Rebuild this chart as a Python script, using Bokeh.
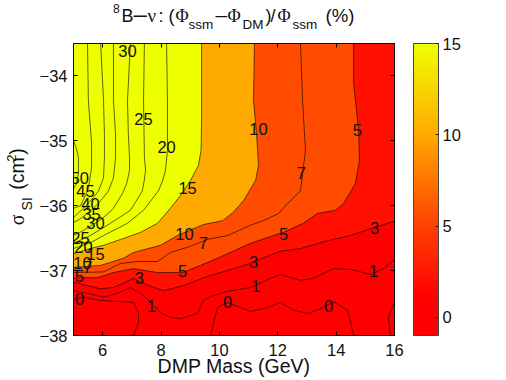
import numpy as np
from bokeh.plotting import figure
from bokeh.layouts import column, row
from bokeh.models import (ColorBar, LinearColorMapper, FixedTicker, LinearAxis, Range1d)
from bokeh.core.properties import value
from bokeh.embed import file_html
from bokeh.resources import INLINE

# contour lines: (DMP mass GeV, log sigma)
c50_x = [5.00, 5.10, 5.17, 5.17, 5.10, 5.00]
c50_y = [-35.00, -35.12, -35.26, -35.50, -35.66, -35.74]
c45_x = [5.48, 5.51, 5.58, 5.62, 5.62, 5.55, 5.48, 5.24, 5.00]
c45_y = [-33.50, -34.38, -34.80, -35.04, -35.41, -35.62, -35.77, -36.00, -36.04]
c40_x = [5.93, 6.03, 6.06, 6.06, 6.03, 5.86, 5.69, 5.34, 5.00]
c40_y = [-33.50, -34.38, -34.90, -35.26, -35.57, -35.77, -35.87, -36.04, -36.18]
c35_x = [6.37, 6.37, 6.44, 6.44, 6.37, 6.20, 6.03, 5.69, 5.24, 5.00]
c35_y = [-33.50, -34.38, -34.90, -35.26, -35.57, -35.77, -35.87, -36.04, -36.20, -36.26]
c30_x = [6.95, 6.85, 6.88, 6.92, 6.92, 6.82, 6.68, 6.37, 5.99, 5.34, 5.00]
c30_y = [-33.50, -34.38, -34.90, -35.26, -35.46, -35.66, -35.81, -36.04, -36.20, -36.38, -36.46]
c25_x = [7.43, 7.40, 7.43, 7.47, 7.42, 7.36, 7.23, 6.95, 6.27, 5.58, 5.00]
c25_y = [-33.50, -34.38, -35.26, -35.46, -35.62, -35.77, -35.87, -36.07, -36.27, -36.46, -36.58]
c20_x = [8.19, 8.22, 8.22, 8.15, 8.05, 7.91, 7.74, 7.40, 6.85, 6.03, 5.58, 5.00]
c20_y = [-33.50, -34.38, -35.15, -35.46, -35.62, -35.77, -35.87, -36.07, -36.27, -36.46, -36.57, -36.66]
c15_x = [5.00, 5.48, 6.03, 6.61, 7.30, 7.88, 8.32, 8.67, 9.01, 9.28, 9.37, 9.39, 9.39]
c15_y = [-36.74, -36.67, -36.61, -36.52, -36.41, -36.27, -36.04, -35.84, -35.61, -35.38, -35.15, -34.69, -33.50]
c10_x = [5.00, 5.93, 6.71, 7.06, 7.98, 8.56, 9.45, 10.11, 10.48, 10.83, 11.24, 11.34, 11.31, 11.27, 11.17, 11.20]
c10_y = [-36.95, -36.92, -36.81, -36.72, -36.61, -36.46, -36.29, -36.23, -36.10, -35.92, -35.61, -35.38, -35.15, -34.89, -34.38, -33.50]
c7_x = [5.00, 6.03, 6.61, 7.19, 7.88, 8.32, 8.91, 9.59, 10.28, 11.07, 11.51, 12.03, 12.33, 12.78, 12.85, 12.95, 12.85, 12.78]
c7_y = [-37.03, -37.02, -36.89, -36.86, -36.86, -36.72, -36.64, -36.52, -36.46, -36.30, -36.23, -36.12, -35.97, -35.77, -35.50, -35.15, -34.38, -33.50]
c5_x = [5.00, 5.82, 6.37, 7.06, 7.88, 8.74, 9.35, 9.93, 11.07, 11.65, 12.20, 12.88, 13.36, 13.98, 14.25, 14.66, 14.80, 14.77, 14.60, 14.60]
c5_y = [-37.11, -37.11, -37.03, -36.97, -37.03, -37.03, -36.92, -36.81, -36.58, -36.49, -36.41, -36.27, -36.12, -36.07, -35.97, -35.66, -35.30, -34.84, -34.12, -33.50]
c3_x = [5.00, 5.93, 6.37, 7.06, 7.57, 8.08, 8.77, 9.59, 10.48, 11.07, 11.31, 12.09, 12.78, 13.70, 14.49, 15.28, 16.00]
c3_y = [-37.18, -37.28, -37.26, -37.12, -37.23, -37.31, -37.23, -37.09, -36.97, -36.89, -36.84, -36.70, -36.66, -36.54, -36.46, -36.34, -36.24]
c1_x = [5.00, 5.48, 6.03, 6.51, 6.95, 7.30, 7.64, 7.98, 8.32, 8.67, 9.25, 9.45, 9.70, 10.28, 11.07, 11.65, 12.09, 12.78, 13.22, 13.91, 14.49, 15.18, 15.62, 16.00]
c1_y = [-37.31, -37.35, -37.41, -37.35, -37.26, -37.35, -37.49, -37.65, -37.72, -37.74, -37.66, -37.46, -37.40, -37.32, -37.26, -37.14, -37.06, -37.15, -37.12, -36.97, -36.98, -37.06, -36.97, -36.83]
c0a_x = [5.00, 5.34, 5.93, 7.06, 7.23, 7.23, 7.06]
c0a_y = [-37.45, -37.41, -37.46, -37.49, -37.65, -37.80, -38.00]
c0b_x = [9.70, 9.93, 10.28, 10.72, 11.07, 11.65, 12.09, 12.54, 13.02, 13.57, 13.91, 14.39, 14.60]
c0b_y = [-38.00, -37.57, -37.49, -37.57, -37.63, -37.57, -37.49, -37.61, -37.66, -37.57, -37.48, -37.61, -38.00]
c0c_x = [16.00, 15.79, 15.86]
c0c_y = [-37.49, -37.72, -38.00]

label_x = [6.85, 7.40, 8.19, 8.91, 11.34, 14.73, 12.81, 8.80, 9.45, 12.20, 15.32, 11.17, 8.74, 7.26, 7.67,
           11.24, 15.28, 10.28, 13.74, 5.21, 5.21, 5.31, 5.48, 5.75, 5.34, 5.24, 5.75, 5.62, 5.58, 5.41, 5.21]
label_y = [-33.62, -34.66, -35.10, -35.72, -34.81, -34.84, -35.50, -36.43, -36.58, -36.43, -36.34, -36.86, -37.00, -37.11, -37.54,
           -37.23, -37.01, -37.49, -37.54, -37.43, -37.08, -36.89, -36.94, -36.74, -36.64, -36.49, -36.27, -36.13, -35.97, -35.78, -35.58]
label_text = ["30", "25", "20", "15", "10", "5", "7", "10", "7", "5", "3", "3", "5", "3", "1",
              "1", "1", "0", "0", "0", "5", "10", "7", "15", "20", "25", "30", "35", "40", "45", "50"]

x_ticks = [6, 8, 10, 12, 14, 16]
y_ticks = [-38, -37, -36, -35, -34]
cbar_ticks = [0, 5, 10, 15]

X0, X1, Y0, Y1 = 5, 16, -38, -33.5
SANS = "Liberation Sans"
SERIF = "Liberation Serif"
INK = "#111111"

# ---------- main panel ----------
TITLE_H, YLAB_W = 33, 35
p = figure(width=506 - YLAB_W, height=380 - TITLE_H, output_backend="svg", toolbar_location=None,
           x_range=Range1d(X0, X1), y_range=Range1d(Y0, Y1),
           min_border_left=73 - YLAB_W, min_border_right=112, min_border_top=43 - TITLE_H,
           min_border_bottom=45,
           background_fill_color="#ff0000", border_fill_color="white")
p.grid.visible = False
p.outline_line_color = "#222222"

p.patch(c3_x + [X1, X0], c3_y + [Y1, Y1], color="#ff1000", line_width=0)
p.patch(c5_x + [X0], c5_y + [Y1], color="#ff4c00", line_width=0)
p.patch(c7_x + [X0], c7_y + [Y1], color="#ff4c00", line_width=0)
p.patch(c10_x + [X0], c10_y + [Y1], color="#ffaa00", line_width=0)
p.patch(c15_x + [X0], c15_y + [Y1], color="#eeff00", line_width=0)

for cx, cy in [(c50_x, c50_y), (c45_x, c45_y), (c40_x, c40_y), (c35_x, c35_y), (c30_x, c30_y),
               (c25_x, c25_y), (c20_x, c20_y), (c15_x, c15_y), (c10_x, c10_y), (c7_x, c7_y),
               (c5_x, c5_y), (c3_x, c3_y), (c1_x, c1_y), (c0a_x, c0a_y), (c0b_x, c0b_y), (c0c_x, c0c_y)]:
    p.line(cx, cy, line_color="#000000", line_alpha=0.75, line_width=0.8, line_join="round")

p.text(label_x, label_y, text=label_text, text_font=value(SANS), text_font_size="16.5px",
       text_align="center", text_baseline="middle", text_color=INK)

TICK = 16.5
for ax in (p.xaxis[0], p.yaxis[0]):
    ax.major_tick_in = 4
    ax.major_tick_out = 0
    ax.minor_tick_in = 0
    ax.minor_tick_out = 0
    ax.major_label_text_font = SANS
    ax.major_label_text_font_size = f"{TICK}px"
    ax.major_label_text_color = INK
    ax.axis_line_color = "#111111"
    ax.major_tick_line_color = "#000000"
p.xaxis[0].ticker = FixedTicker(ticks=x_ticks)
p.yaxis[0].ticker = FixedTicker(ticks=y_ticks)
p.yaxis[0].major_label_overrides = {v: f"\u2212{abs(v)}" for v in y_ticks}
p.yaxis[0].major_label_standoff = 6
p.xaxis[0].major_label_standoff = 8
p.xaxis[0].axis_label = "DMP Mass (GeV)"
p.xaxis[0].axis_label_text_font = SANS
p.xaxis[0].axis_label_text_font_size = "19.5px"
p.xaxis[0].axis_label_text_font_style = "normal"
p.xaxis[0].axis_label_text_color = INK
p.xaxis[0].axis_label_standoff = -4

for place, ticks in (("above", x_ticks), ("right", y_ticks)):
    ax = LinearAxis(ticker=FixedTicker(ticks=ticks), major_tick_in=4, major_tick_out=0,
                    minor_tick_in=0, minor_tick_out=0,
                    major_label_overrides={t: "" for t in ticks},
                    major_label_standoff=0, axis_line_color="#111111", major_tick_line_color="#000000")
    p.add_layout(ax, place)

stops_v = [-1, 1, 5, 10, 15]
stops_g = [0, 0, 64, 170, 255]
stops_r = [255, 255, 255, 255, 238]
vals = np.linspace(-1, 15, 128)
palette = ["#%02x%02x00" % (int(round(r)), int(round(g)))
           for r, g in zip(np.interp(vals, stops_v, stops_r), np.interp(vals, stops_v, stops_g))]
mapper = LinearColorMapper(palette=palette, low=-1, high=15)
cb = ColorBar(color_mapper=mapper, width=25, height=292, padding=0, margin=0, location=(19, 0),
              ticker=FixedTicker(ticks=cbar_ticks), major_tick_in=3, major_tick_line_color="#222222",
              minor_tick_in=0, minor_tick_out=0,
              bar_line_color="#444444", major_label_text_font=SANS,
              major_label_text_font_size=f"{TICK}px", major_label_text_color=INK,
              label_standoff=4)
p.add_layout(cb, "right")

# ---------- text strips around the main panel ----------
def strip(w, h, left, top):
    f = figure(width=w, height=h, output_backend="svg", toolbar_location=None,
               x_range=Range1d(left, left + w), y_range=Range1d(top + h, top),
               x_axis_type=None, y_axis_type=None, min_border=0,
               outline_line_color=None, background_fill_color=None, border_fill_color=None)
    return f

SHIFT = 0.43
def piece(f, text, px, base, size, font=SANS, angle=0.0):
    if angle:
        px, base = px - SHIFT * size, base + 8
    else:
        base = base - SHIFT * size
    f.text([px], [base], text=[text], text_font=value(font), text_font_size=value(f"{size}px"),
           text_color=INK, text_baseline="alphabetic", text_align="left", angle=angle)

t = strip(506, TITLE_H, 0, 0)
piece(t, "8", 112.5, 13.5, 12)
piece(t, "B", 121, 23, 18)
piece(t, "\u2013", 133, 23.5, 24)
piece(t, "\u03bd", 147, 23, 19, SERIF)
piece(t, ":", 158, 23, 18)
piece(t, "(", 168, 23, 18)
piece(t, "\u03a6", 175, 23, 18, SERIF)
piece(t, "ssm", 188, 30, 13.5)
piece(t, "\u2013", 215, 23.5, 21)
piece(t, "\u03a6", 227, 23, 18, SERIF)
piece(t, "DM", 242, 30, 13.5)
piece(t, ")", 265, 23, 18)
piece(t, "/", 270, 23, 18)
piece(t, "\u03a6", 277, 23, 18, SERIF)
piece(t, "ssm", 292, 30, 13.5)
piece(t, "(%)", 325, 23, 18.6)

yl = strip(YLAB_W, 317, 0, TITLE_H)
UP = np.pi / 2
piece(yl, "\u03c3", 25, 245, 20, SERIF, UP)
piece(yl, "SI", 33, 227, 14, SANS, UP)
piece(yl, "(cm", 25, 202, 19.5, SANS, UP)
piece(yl, "2", 17, 168, 13, SANS, UP)
piece(yl, ")", 25, 159.5, 19.5, SANS, UP)

layout = column(t, row(yl, p), spacing=0)
open("out.html", "w").write(file_html(layout, INLINE))
